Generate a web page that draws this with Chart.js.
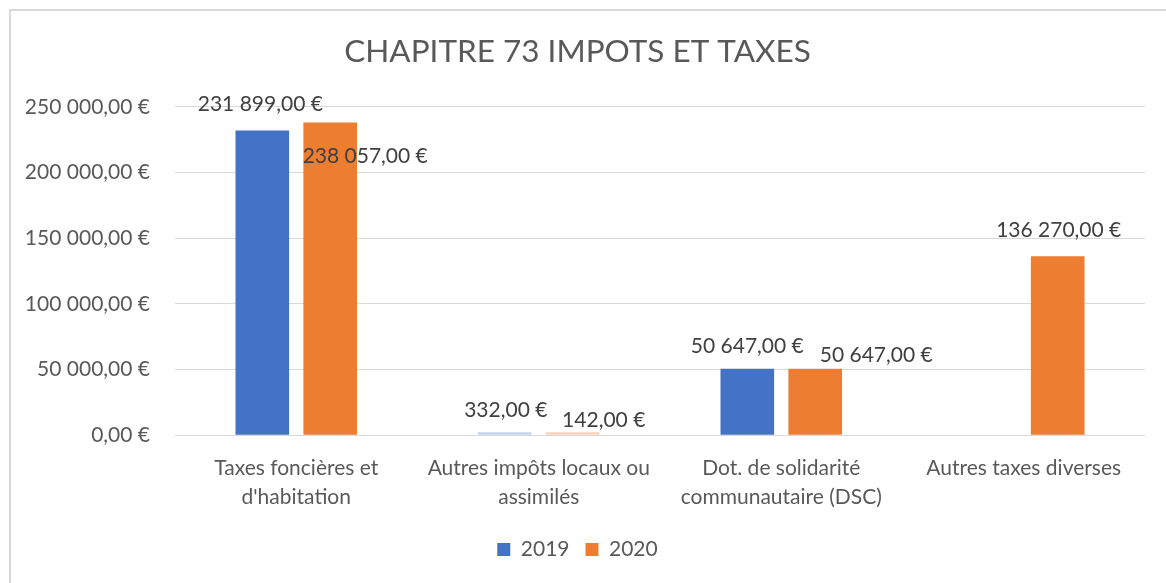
<!DOCTYPE html>
<html>
<head>
<meta charset="utf-8">
<script src="https://cdn.jsdelivr.net/npm/chart.js@4.4.0/dist/chart.umd.min.js"></script>
<style>
    html, body { margin: 0; padding: 0; background: #ffffff; }
    #wrap { position: relative; width: 1166px; height: 583px; overflow: hidden; }
    #cadre { position: absolute; left: 9px; top: 9px; width: 1200px; height: 600px; border: 2px solid #d9d9d9; box-sizing: border-box; }
    #graficoChapitre { position: absolute; left: 0; top: 0; }
</style>
</head>
<body>
<div id="wrap">
    <div id="cadre"></div>
    <canvas id="graficoChapitre" width="1166" height="583"></canvas>
</div>
<script>
const categories = [
    ["Taxes foncières et", "d'habitation"],
    ["Autres impôts locaux ou", "assimilés"],
    ["Dot. de solidarité", "communautaire (DSC)"],
    ["Autres taxes diverses"]
];
const valeurs2019 = [231899, 332, 50647, null];
const valeurs2020 = [238057, 142, 50647, 136270];
const ticksY = [0, 50000, 100000, 150000, 200000, 250000];

// decalage des etiquettes (x, y) par rapport au haut de la barre
const decalage2019 = [[-2, -26], [1, -25], [0, -22], null];
const decalage2020 = [[35, 34], [31, -15], [61, -13], [1, -26]];

const police = "Lato, 'Open Sans', sans-serif";
const bleu = '#4472C4';
const orange = '#ED7D31';

function formatEuro(v) {
    const partes = v.toFixed(2).split(".");
    const inteiro = partes[0].replace(/\B(?=(\d{3})+(?!\d))/g, " ");
    return inteiro + "," + partes[1] + " €";
}

const etiquettesPlugin = {
    id: 'etiquettes',
    afterDatasetsDraw(chart) {
        const ctx = chart.ctx;
        const decalages = [decalage2019, decalage2020];
        ctx.save();
        ctx.font = "21px " + police;
        ctx.fillStyle = '#404040';
        ctx.textAlign = 'center';
        ctx.textBaseline = 'middle';
        chart.data.datasets.forEach((ds, i) => {
            const meta = chart.getDatasetMeta(i);
            meta.data.forEach((bar, j) => {
                const v = ds.data[j];
                if (v === null || v === undefined) return;
                const d = decalages[i][j] || [0, -14];
                const topo = chart.scales.y.getPixelForValue(v);
                ctx.fillText(formatEuro(v), bar.x + d[0], topo + d[1]);
            });
        });
        ctx.restore();
    }
};

const ctx = document.getElementById("graficoChapitre").getContext("2d");

new Chart(ctx, {
    type: 'bar',
    data: {
        labels: categories,
        datasets: [{
            label: '2019',
            data: valeurs2019,
            backgroundColor: c => (c.raw !== null && c.raw < 1000) ? '#C5D3EC' : bleu,
            minBarLength: 3
        }, {
            label: '2020',
            data: valeurs2020,
            backgroundColor: c => (c.raw !== null && c.raw < 1000) ? '#F8D3BD' : orange,
            minBarLength: 3
        }]
    },
    options: {
        responsive: false,
        animation: false,
        categoryPercentage: 0.56,
        barPercentage: 0.79,
        layout: {
            padding: { left: 10, right: 21, top: 10, bottom: 13 }
        },
        scales: {
            y: {
                min: 0,
                max: 250000,
                afterFit: s => { s.width = 165; },
                afterBuildTicks: s => { s.ticks = ticksY.map(v => ({ value: v })); },
                grid: { color: '#d9d9d9', lineWidth: 1, drawTicks: false },
                border: { display: false },
                ticks: {
                    padding: 25,
                    color: '#595959',
                    font: { family: police, size: 21 },
                    callback: v => formatEuro(v)
                }
            },
            x: {
                afterFit: s => { s.height += 1; },
                grid: { display: false },
                border: { display: false },
                ticks: {
                    padding: 10,
                    color: '#595959',
                    font: { family: police, size: 21, lineHeight: 1.4 },
                    maxRotation: 0
                }
            }
        },
        plugins: {
            title: {
                display: true,
                text: 'CHAPITRE 73 IMPOTS ET TAXES',
                color: '#595959',
                font: { family: police, size: 31.5, weight: 'normal' },
                padding: { top: 23, bottom: 36 }
            },
            legend: {
                position: 'bottom',
                labels: {
                    color: '#595959',
                    font: { family: police, size: 21 },
                    boxWidth: 13,
                    boxHeight: 13,
                    padding: 16
                }
            },
            tooltip: { enabled: false }
        }
    },
    plugins: [etiquettesPlugin]
});
</script>
</body>
</html>
